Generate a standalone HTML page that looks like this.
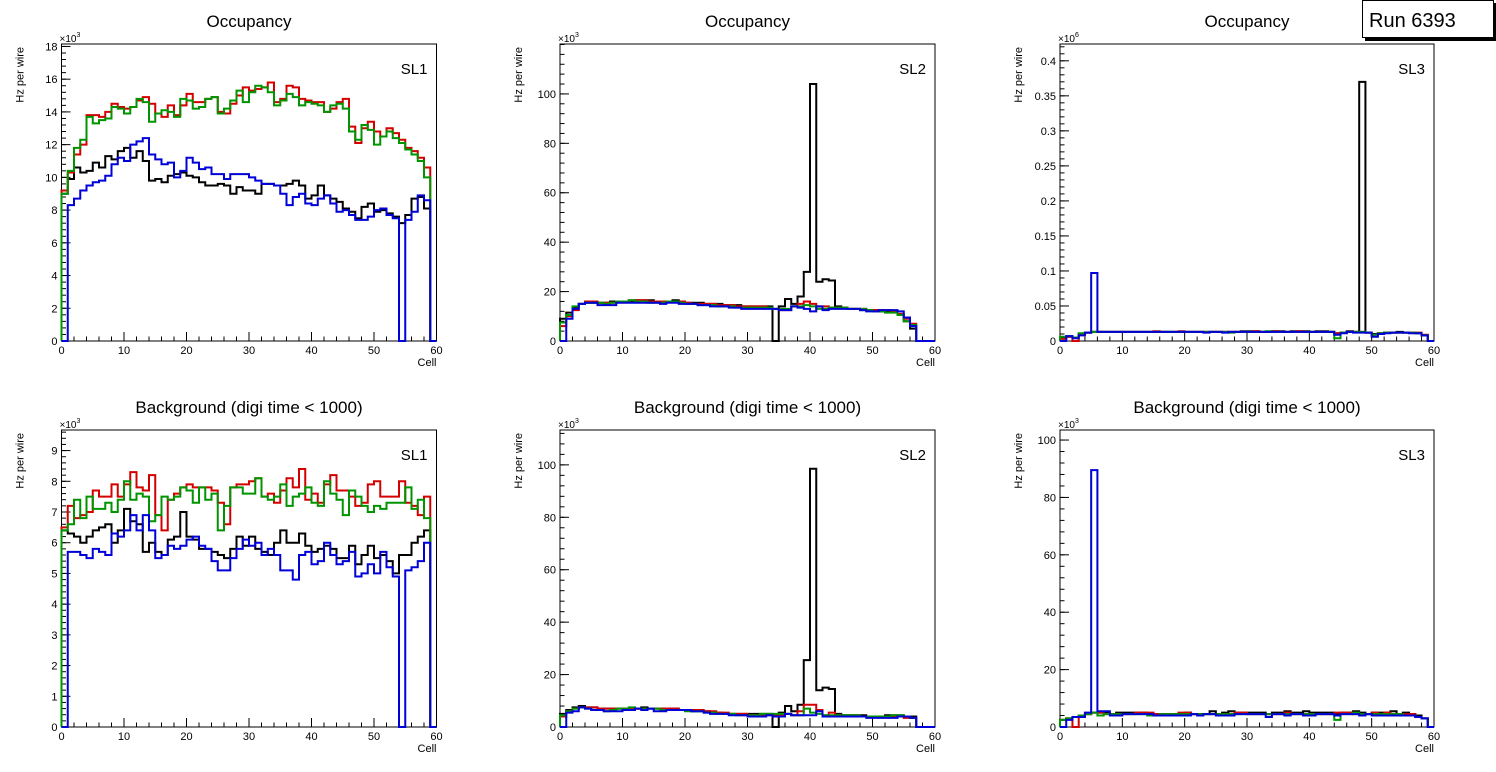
<!DOCTYPE html>
<html><head><meta charset="utf-8"><style>
html,body{margin:0;padding:0;background:#fff;}
svg{display:block;font-family:"Liberation Sans",sans-serif;}
</style></head><body>
<svg id="c" width="1496" height="772" viewBox="0 0 1496 772"></svg>
<script>
// ---- data (bins 0..59) ----
const cells = 60;
const occSL1Black=[9.0,9.9,10.6,10.3,10.4,10.9,10.6,11.3,11.1,11.6,11.8,11.2,11.6,11.0,9.8,9.9,9.7,10.1,10.2,10.3,10.1,10.0,9.7,9.5,9.5,9.6,9.5,9.0,9.4,9.2,9.2,9.0,9.6,9.6,9.5,9.5,9.6,9.8,9.5,8.7,8.9,9.5,8.9,8.7,8.5,8.1,7.9,7.5,8.2,8.4,7.9,8.0,7.8,7.6,7.2,7.7,8.7,8.8,8.1,0];
const occSL1Red=[9.2,10.3,11.4,12.0,13.8,13.8,13.7,14.0,14.5,14.3,14.2,14.3,14.7,14.9,14.5,13.9,13.7,14.4,13.8,14.4,15.1,14.6,14.6,14.8,14.9,14.0,13.9,14.5,15.0,15.5,15.3,15.4,15.5,15.8,14.6,14.8,15.6,15.5,14.8,14.7,14.6,14.6,14.0,14.2,14.6,14.8,13.1,12.1,13.0,13.4,12.8,12.5,13.0,12.7,12.3,11.8,11.6,11.2,10.6,0];
const occSL1Green=[9.0,10.4,11.8,12.3,13.7,13.3,13.5,13.6,14.3,14.2,13.9,14.3,14.8,14.6,13.4,13.9,14.1,14.0,13.7,14.8,14.7,14.2,14.3,14.8,14.9,13.9,14.2,14.7,15.3,14.6,15.2,15.6,15.5,15.2,14.4,14.7,15.1,14.9,14.4,14.6,14.5,14.4,14.0,14.4,14.5,14.2,12.8,12.3,13.2,12.9,12.0,12.5,12.8,12.4,12.1,11.7,11.4,11.0,10.0,0];
const occSL1Blue=[0,8.3,8.7,9.2,9.5,9.7,9.8,10.1,10.8,11.2,11.0,12.0,12.2,12.4,11.4,11.1,10.8,10.9,10.0,10.4,11.2,10.9,10.5,10.6,10.2,10.2,9.9,10.2,10.2,10.2,10.0,9.8,9.6,9.6,9.5,9.0,8.3,8.8,9.0,8.4,8.3,8.7,8.9,8.4,7.9,8.0,7.7,7.4,7.4,7.6,8.0,8.1,7.7,7.5,0,7.4,7.9,8.9,8.6,0];

const occSL2Black=[9,11.5,13.5,15,15.5,15.5,15.5,15.5,16,16,16,16,16.5,16.5,16.5,16,16,16,16.5,16,15.5,15.5,15.5,15,15,15,14.5,14.5,14.5,14,14,14,14,14,0,14,17,15,18,28,104,24,25,24.5,14,13.5,13,13,12.5,12.5,12.5,12,12,12,10.5,8,5,0,0,0];
const occSL2Red=[6,10,12.5,15,16,16,15.5,15.5,15.5,16,16,16.5,16.5,16.5,16,16,16,16,16,16,15.5,15,15,15,15,14.5,14.5,14.5,14,14,14,14,14,13.5,13,12.5,12.5,14,15,16,15,14,14,13.5,13.5,13.5,13,13,13,12.5,12.5,12.5,12.5,12,11,9,7,0,0,0];
const occSL2Green=[7.5,10.5,14,15,15.5,15.5,15.5,15,15.5,16,16,16.5,16,16,15.5,15.5,15.5,16,16,15.5,15,15,14.5,14.5,14.5,14,14,14,13.5,13.5,13.5,13.5,13.5,13.5,13,13,13,14,14,14.5,14,13,13,13.5,13.5,13.5,13,13,13,12.5,12,12,11.5,11.5,10.5,8,6.5,0,0,0];
const occSL2Blue=[0,9,13,15,15.5,15.5,14.5,14.5,14.5,15.5,15.5,15.5,15.5,15.5,15.5,15.5,15,15.5,15.5,15,15,15,14.5,14.5,14,14,14,13.5,13.5,13,13,13,13,13,13,12.5,12.5,14,13.5,13,12,14,12.5,13,13,13,13,13,12.5,12,12,12.5,12.5,12.5,12,9.5,6,0,0,0];

const occSL3Black=[0.004,0.006,0.005,0.010,0.012,0.013,0.013,0.013,0.013,0.013,0.013,0.013,0.013,0.013,0.013,0.013,0.013,0.013,0.013,0.013,0.013,0.013,0.013,0.013,0.013,0.013,0.013,0.013,0.013,0.014,0.014,0.014,0.013,0.013,0.014,0.014,0.013,0.014,0.014,0.014,0.013,0.014,0.014,0.013,0.011,0.012,0.014,0.013,0.370,0.012,0.010,0.011,0.012,0.012,0.013,0.012,0.012,0.011,0.008,0];
const occSL3Red=[0.003,0.006,0.000,0.010,0.012,0.013,0.013,0.013,0.013,0.013,0.013,0.013,0.013,0.013,0.013,0.014,0.013,0.013,0.013,0.014,0.013,0.013,0.013,0.013,0.013,0.013,0.013,0.013,0.013,0.013,0.013,0.014,0.013,0.013,0.014,0.013,0.013,0.013,0.014,0.013,0.013,0.013,0.013,0.013,0.011,0.012,0.013,0.013,0.013,0.012,0.009,0.011,0.012,0.012,0.012,0.012,0.012,0.012,0.009,0];
const occSL3Green=[0.006,0.007,0.005,0.011,0.012,0.013,0.013,0.013,0.013,0.013,0.013,0.013,0.013,0.013,0.013,0.013,0.013,0.013,0.013,0.013,0.013,0.013,0.013,0.013,0.013,0.013,0.013,0.012,0.013,0.013,0.013,0.013,0.013,0.014,0.013,0.013,0.013,0.013,0.013,0.013,0.013,0.013,0.013,0.013,0.004,0.012,0.013,0.013,0.013,0.012,0.009,0.011,0.012,0.012,0.012,0.012,0.012,0.011,0.008,0];
const occSL3Blue=[0,0.007,0.004,0.008,0.012,0.097,0.013,0.013,0.013,0.013,0.013,0.013,0.013,0.013,0.013,0.013,0.013,0.013,0.013,0.013,0.013,0.013,0.013,0.012,0.013,0.013,0.012,0.013,0.013,0.013,0.013,0.013,0.013,0.013,0.013,0.013,0.013,0.013,0.013,0.013,0.013,0.013,0.013,0.013,0.009,0.011,0.013,0.012,0.012,0.012,0.006,0.010,0.011,0.012,0.012,0.012,0.011,0.011,0.008,0];

const bkgSL1Black=[6.4,6.3,6.2,6.0,6.2,6.4,6.5,6.6,6.0,6.4,7.1,6.7,6.6,5.7,6.0,5.7,5.6,6.1,6.2,7.0,6.2,6.1,5.8,5.8,5.7,5.6,5.5,5.8,6.2,5.9,6.2,5.8,5.7,5.6,6.0,6.4,6.0,6.0,6.3,5.9,5.7,5.8,5.9,5.8,5.5,5.5,5.9,5.3,5.6,5.9,5.5,5.6,5.4,5.0,5.6,5.6,6.0,6.2,6.4,0];
const bkgSL1Red=[6.5,7.2,6.8,6.9,7.0,7.7,7.5,7.5,7.9,7.5,7.9,8.3,7.8,7.7,8.2,6.9,6.4,7.4,7.6,7.8,7.9,7.8,7.8,7.8,7.7,7.3,6.6,7.8,7.9,7.9,8.0,8.1,7.5,7.6,7.3,7.7,8.1,7.8,8.4,7.4,7.6,7.3,7.9,8.2,7.7,7.7,7.5,7.2,7.3,7.9,8.0,7.5,7.5,7.5,8.0,7.3,7.2,6.9,7.5,0];
const bkgSL1Green=[6.4,6.6,7.4,6.8,7.5,7.1,7.1,7.3,7.0,7.4,8.0,7.4,7.6,7.5,6.7,6.9,7.5,7.4,7.5,7.8,7.7,7.3,7.8,7.4,7.6,6.4,7.2,7.8,7.8,7.6,7.6,8.1,7.5,7.4,7.5,7.9,7.2,7.5,7.6,7.8,7.3,7.2,8.0,7.6,7.4,6.9,7.7,7.5,7.2,7.0,7.2,7.1,7.3,7.3,7.3,7.8,7.1,7.4,6.8,0];
const bkgSL1Blue=[0,5.7,5.7,5.6,5.5,5.8,5.7,5.6,6.3,6.2,6.4,6.9,6.4,6.9,6.4,5.5,5.6,5.9,5.8,5.9,6.1,6.2,5.9,5.8,5.4,5.1,5.1,5.5,5.8,6.1,5.9,6.0,5.6,5.8,5.6,5.1,5.1,4.8,5.6,5.7,5.3,5.4,6.0,5.6,5.3,5.4,5.7,4.9,5.0,5.3,5.0,5.7,5.2,4.9,0,5.1,5.2,5.4,6.0,0];

const bkgSL2Black=[5,6.5,7.5,8,7.5,7.5,7,7,7,7,7,7,7,7.5,7,7,7,7,7,6.5,6.5,6,6,6,5.5,5.5,5,5,5,5,5,5,5,5,0,5.5,8,6,8.5,25.5,98.5,14,15,14.5,5,4.5,4.5,4.5,4.5,4,4,4,4.5,4.5,4.5,4,4,0,0,0];
const bkgSL2Red=[4,6,7,7.5,7.5,7.5,7,7,7,7,7,7,7,7,7,7,7,7,7,6.5,6.5,6.5,6.5,6,6,5.5,5.5,5,5,5,4.5,4.5,4.5,4.5,4.5,4.5,5,4.5,6,8.5,8.5,6.5,4.5,5.5,4.5,4.5,4.5,4.5,4,4,4,4,4,4,4,3.5,3.5,0,0,0];
const bkgSL2Green=[4.5,6,7,7.5,7,6.5,6.5,6,6.5,7,7,7.5,7,7,7,7,6.5,6.5,6.5,6.5,6,6,6,5.5,5.5,5,5,5,4.5,4.5,4.5,4.5,5,5,5,5,5,4.5,4.5,7,5.5,5,4.5,4.5,4.5,4.5,4.5,4.5,4,4,4,4,4,4.5,4.5,4,3.5,0,0,0];
const bkgSL2Blue=[0,5.5,6,7.5,7,6.5,6.5,6,6,6,6.5,6.5,7,6.5,7,6,6,6.5,6.5,6.5,6.5,6,6,5.5,5,5,5,4.5,4.5,4.5,4,4,4,4.5,4,4,5,4.5,4.5,4.5,4.5,6,4,4,4,4,4,4,4,3.5,3.5,3.5,3.5,3.5,4,4,3.5,0,0,0];

const bkgSL3Black=[2.5,3,3.5,4,4.5,5,5,5,4.5,5,5,5,5,5,4.5,4.5,4.5,4.5,4.5,4.5,5,4.5,4.5,4.5,5.5,4.5,5,5.5,5,5,5,5,5,4.5,5,5,5.5,5,5,5.5,5,5,5,5,4.5,5,5,5.5,5,4.5,5,5,5,5.5,4.5,5,4.5,4,3,0];
const bkgSL3Red=[2.5,3,0,4,4.5,5,5,4.5,4.5,4.5,4.5,4.5,5,5,5,4.5,4.5,4.5,4.5,5,5,4.5,4.5,4.5,4.5,4.5,4.5,4.5,5,5,4.5,4.5,4.5,4.5,4.5,4.5,5,4.5,4.5,4.5,4.5,4.5,4.5,4.5,5,5,5,4.5,4.5,4.5,5,4.5,5,4.5,4.5,4.5,4.5,3.5,3,0];
const bkgSL3Green=[2.5,3,3.5,4,4.5,5,4,4.5,4.5,4.5,4.5,4.5,4.5,4.5,4,4,4.5,4.5,4.5,4.5,4.5,4.5,4.5,4.5,4.5,4.5,4.5,4.5,4.5,4.5,4.5,4.5,4.5,4.5,4.5,4.5,4.5,4.5,4.5,4.5,4.5,4.5,4.5,4.5,2.5,4.5,4.5,5,4.5,4.5,4.5,4.5,4.5,4.5,4.5,4,4,3.5,3,0];
const bkgSL3Blue=[0,2.5,3.5,3.5,5,89.5,5.5,5.5,4,4,4.5,4.5,4.5,4.5,4.5,4,4,4,4,4,4,4.5,4,4.5,4.5,4,4,4,4.5,4.5,4.5,4.5,4.5,3.5,4.5,4.5,4,4.5,4.5,4,4,4.5,4.5,4.5,4,4.5,4.5,4.5,4,4.5,4,4,4,4,4,4,4,3.5,3,0];

const xTicks=[0,10,20,30,40,50,60];
const ticksSL1Occ=[0,2,4,6,8,10,12,14,16,18];
const ticksSL1Bkg=[0,1,2,3,4,5,6,7,8,9];
const ticksSL2=[0,20,40,60,80,100];
const ticksSL3Occ=["0","0.05","0.1","0.15","0.2","0.25","0.3","0.35","0.4"];
const ticksSL3Bkg=[0,20,40,60,80,100];

// ---- drawing ----
const NS="http://www.w3.org/2000/svg";
const svg=document.getElementById('c');
function mk(tag,attrs,parent){const e=document.createElementNS(NS,tag);for(const k in attrs)e.setAttribute(k,attrs[k]);(parent||svg).appendChild(e);return e;}
const colors={black:'#000000',red:'#d40000',green:'#009400',blue:'#0000d8'};

const panels=[
 {id:'occ-sl1',title:'Occupancy',sl:'SL1',x0:61.5,x1:436.5,y0:44,y1:341,ymax:18.15,ticks:ticksSL1Occ,minor:0.4,exp:'3',series:[occSL1Black,occSL1Red,occSL1Green,occSL1Blue]},
 {id:'occ-sl2',title:'Occupancy',sl:'SL2',x0:560,x1:935,y0:44,y1:341,ymax:120.2,ticks:ticksSL2,minor:4,exp:'3',series:[occSL2Black,occSL2Red,occSL2Green,occSL2Blue]},
 {id:'occ-sl3',title:'Occupancy',sl:'SL3',x0:1060,x1:1434,y0:44,y1:341,ymax:0.424,ticks:ticksSL3Occ,minor:0.01,exp:'6',series:[occSL3Black,occSL3Red,occSL3Green,occSL3Blue]},
 {id:'bkg-sl1',title:'Background (digi time < 1000)',sl:'SL1',x0:61.5,x1:436.5,y0:430,y1:727,ymax:9.67,ticks:ticksSL1Bkg,minor:0.2,exp:'3',series:[bkgSL1Black,bkgSL1Red,bkgSL1Green,bkgSL1Blue]},
 {id:'bkg-sl2',title:'Background (digi time < 1000)',sl:'SL2',x0:560,x1:935,y0:430,y1:727,ymax:113.3,ticks:ticksSL2,minor:4,exp:'3',series:[bkgSL2Black,bkgSL2Red,bkgSL2Green,bkgSL2Blue]},
 {id:'bkg-sl3',title:'Background (digi time < 1000)',sl:'SL3',x0:1060,x1:1434,y0:430,y1:727,ymax:103.5,ticks:ticksSL3Bkg,minor:4,exp:'3',series:[bkgSL3Black,bkgSL3Red,bkgSL3Green,bkgSL3Blue]}
];
const sNames=['black','red','green','blue'];

panels.forEach(p=>{
  const g=mk('g',{});
  
  
  const X=v=>p.x0+(v/cells)*(p.x1-p.x0);
  const Y=v=>p.y1-(v/p.ymax)*(p.y1-p.y0);
  const cx=(p.x0+p.x1)/2;
  const t=mk('text',{x:cx,y:p.y0-17,'text-anchor':'middle','font-size':17,fill:'#000'},g);
  t.textContent=p.title;
  
  
  // frame
  const fr=mk('rect',{x:p.x0,y:p.y0,width:p.x1-p.x0,height:p.y1-p.y0,fill:'none',stroke:'#000','stroke-width':1},g);
  
  
  // x ticks
  for(let v=0;v<=60;v+=2){
    const major=v%10===0;
    mk('line',{x1:X(v),x2:X(v),y1:p.y1,y2:p.y1-(major?9:4.5),stroke:'#000','stroke-width':1},g);
  }
  xTicks.forEach(v=>{
    const tl=mk('text',{x:X(v),y:p.y1+13,'text-anchor':'middle','font-size':11,fill:'#000'},g);
    tl.textContent=v;
    
    
  });
  const cl=mk('text',{x:p.x1,y:p.y1+25,'text-anchor':'end','font-size':11,fill:'#000'},g);
  cl.textContent='Cell';
  
  
  // y ticks
  for(let v=0;v<=p.ymax+1e-9;v+=p.minor){
    mk('line',{x1:p.x0,x2:p.x0+4.5,y1:Y(v),y2:Y(v),stroke:'#000','stroke-width':1},g);
  }
  p.ticks.forEach(s=>{
    const v=parseFloat(s);
    mk('line',{x1:p.x0,x2:p.x0+9,y1:Y(v),y2:Y(v),stroke:'#000','stroke-width':1},g);
    const tl=mk('text',{x:p.x0-4,y:Y(v)+4,'text-anchor':'end','font-size':11,fill:'#000'},g);
    tl.textContent=s;
    
    
  });
  const ex=mk('text',{x:p.x0-2,y:p.y0-2,'font-size':10,fill:'#000'},g);
  ex.innerHTML='×10<tspan dy="-5" font-size="7">'+p.exp+'</tspan>';
  
  
  const yt=mk('text',{x:0,y:0,'text-anchor':'end','font-size':11,fill:'#000',transform:'translate('+(p.x0-38)+','+(p.y0+3)+') rotate(-90)'},g);
  yt.textContent='Hz per wire';
  
  
  const sl=mk('text',{x:p.x1-9,y:p.y0+30,'text-anchor':'end','font-size':15,fill:'#000'},g);
  sl.textContent=p.sl;
  
  
  // series
  p.series.forEach((arr,si)=>{
    let d='M'+X(0)+','+Y(0);
    arr.forEach((v,i)=>{ d+=' L'+X(i)+','+Y(v)+' L'+X(i+1)+','+Y(v); });
    d+=' L'+X(arr.length)+','+Y(0);
    const path=mk('path',{d:d,fill:'none',stroke:colors[sNames[si]],'stroke-width':2,'stroke-linejoin':'miter'},g);
    
    
  });
});

// Run box
const rb=mk('g',{});


mk('rect',{x:1365,y:3,width:131,height:38,fill:'#000'},rb);
mk('rect',{x:1362.5,y:0.5,width:131,height:37,fill:'#fff',stroke:'#000','stroke-width':1},rb);
const rt=mk('text',{x:1369,y:27,'font-size':20,fill:'#000'},rb);
rt.textContent='Run 6393';


</script>
</body></html>
